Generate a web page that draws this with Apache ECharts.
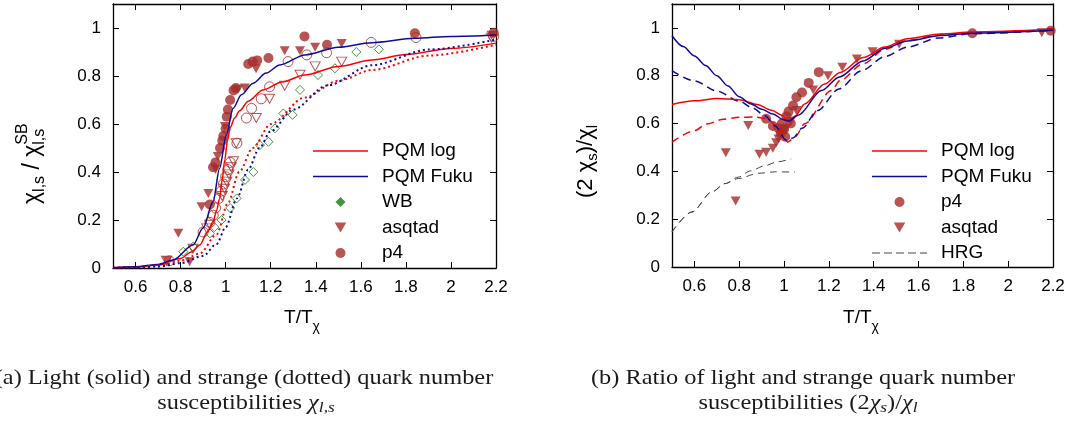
<!DOCTYPE html>
<html><head><meta charset="utf-8">
<script src="https://cdn.jsdelivr.net/npm/echarts@6/dist/echarts.min.js"></script>
<style>html,body{margin:0;padding:0;background:#fff;}#c{width:1077px;height:421px;}</style>
</head><body><div id="c"></div>
<script>
// ---------- tick values ----------
const xTicks = [0.6, 0.8, 1.0, 1.2, 1.4, 1.6, 1.8, 2.0, 2.2];
const yTicks = [0, 0.2, 0.4, 0.6, 0.8, 1.0];

// ---------- (a) curves: light (solid) & strange (dotted) ----------
const logLight = [[0.5,0.001],[0.6,0.004],[0.7,0.012],[0.8,0.04],[0.85,0.068],[0.885,0.096],[0.92,0.15],[0.944,0.193],[0.96,0.24],[0.973,0.29],[0.985,0.37],[0.996,0.45],[1.008,0.53],[1.02,0.585],[1.04,0.625],[1.062,0.655],[1.1,0.695],[1.166,0.742],[1.25,0.775],[1.35,0.804],[1.5,0.84],[1.65,0.867],[1.8,0.89],[2.0,0.915],[2.2,0.937]];
const fukuLight = [[0.5,0.001],[0.6,0.005],[0.7,0.015],[0.766,0.033],[0.855,0.096],[0.9,0.167],[0.944,0.276],[0.973,0.415],[1.003,0.554],[1.033,0.665],[1.07,0.722],[1.121,0.769],[1.18,0.812],[1.24,0.846],[1.352,0.888],[1.5,0.92],[1.648,0.939],[1.84,0.957],[2.0,0.965],[2.2,0.971]];
const logStrange = [[0.5,0.001],[0.6,0.003],[0.7,0.01],[0.8,0.03],[0.885,0.06],[0.96,0.14],[1.01,0.27],[1.06,0.4],[1.12,0.5],[1.2,0.6],[1.35,0.71],[1.5,0.78],[1.65,0.825],[1.9,0.885],[2.2,0.93]];
const fukuStrange = [[0.5,0.001],[0.6,0.002],[0.7,0.006],[0.8,0.02],[0.9,0.05],[0.96,0.1],[1.0,0.17],[1.05,0.29],[1.1,0.41],[1.15,0.5],[1.2,0.57],[1.3,0.66],[1.45,0.76],[1.65,0.845],[1.9,0.91],[2.2,0.952]];

// ---------- (a) lattice data ----------
const wbStrange = [[0.812,0.068],[0.856,0.089],[0.93,0.144],[0.95,0.17],[0.982,0.2],[1.02,0.25],[1.049,0.29],[1.086,0.367],[1.123,0.4],[1.152,0.512],[1.19,0.526],[1.219,0.582],[1.256,0.644],[1.297,0.638],[1.33,0.742],[1.41,0.804],[1.485,0.832],[1.58,0.9],[1.68,0.911]];
const asqtadLight = [[0.74,0.03],[0.79,0.145],[0.84,0.026],[0.893,0.255],[0.923,0.31],[0.955,0.41],[0.965,0.465],[0.997,0.59],[1.055,0.745],[1.085,0.75],[1.135,0.83],[1.262,0.905],[1.33,0.905],[1.397,0.92],[1.515,0.935],[2.18,0.97]];
const asqtadStrange = [[0.737,0.03],[0.855,0.08],[0.916,0.165],[0.93,0.18],[0.985,0.3],[0.995,0.33],[1.005,0.36],[1.015,0.39],[1.025,0.42],[1.035,0.445],[1.047,0.52],[1.136,0.625],[1.195,0.705],[1.262,0.76],[1.33,0.805],[1.397,0.84],[1.515,0.86],[2.18,0.96]];
const p4Light = [[0.93,0.265],[0.944,0.42],[0.955,0.44],[0.975,0.5],[0.985,0.53],[0.99,0.55],[1.0,0.58],[1.005,0.63],[1.01,0.66],[1.02,0.7],[1.035,0.74],[1.045,0.75],[1.1,0.85],[1.12,0.86],[1.14,0.865],[1.19,0.875],[1.35,0.965],[1.45,0.93],[1.84,0.978],[2.19,0.98]];
const p4Strange = [[0.75,0.03],[0.9,0.15],[0.93,0.19],[0.945,0.22],[0.955,0.25],[0.97,0.29],[0.98,0.32],[0.99,0.35],[1.0,0.38],[1.01,0.41],[1.02,0.44],[1.05,0.52],[1.092,0.625],[1.115,0.665],[1.158,0.705],[1.195,0.755],[1.277,0.86],[1.36,0.888],[1.448,0.897],[1.646,0.94],[1.845,0.96],[2.19,0.965]];

// ---------- (b) ratio curves ----------
const logRatio = [[0.5,0.68],[0.6,0.695],[0.7,0.705],[0.8,0.7],[0.88,0.68],[0.944,0.656],[0.99,0.635],[1.02,0.612],[1.05,0.632],[1.092,0.682],[1.181,0.765],[1.25,0.814],[1.353,0.876],[1.45,0.92],[1.55,0.955],[1.7,0.975],[1.84,0.983],[2.2,0.994]];
const fukuRatio = [[0.5,0.967],[0.55,0.922],[0.6,0.883],[0.65,0.843],[0.7,0.8],[0.75,0.757],[0.8,0.712],[0.85,0.683],[0.9,0.66],[0.95,0.64],[0.996,0.617],[1.02,0.61],[1.063,0.635],[1.167,0.738],[1.247,0.795],[1.353,0.862],[1.45,0.915],[1.55,0.945],[1.7,0.968],[1.84,0.978],[2.2,0.99]];
const logRatioDash = [[0.5,0.522],[0.6,0.57],[0.654,0.598],[0.73,0.618],[0.8,0.626],[0.87,0.627],[0.921,0.622],[0.97,0.59],[1.0,0.545],[1.015,0.522],[1.05,0.545],[1.092,0.599],[1.211,0.738],[1.25,0.78],[1.353,0.85],[1.45,0.91],[1.55,0.948],[1.7,0.972],[1.84,0.98],[2.2,0.992]];
const fukuRatioDash = [[0.5,0.821],[0.6,0.778],[0.7,0.736],[0.8,0.694],[0.86,0.665],[0.915,0.633],[0.96,0.59],[1.01,0.53],[1.04,0.54],[1.08,0.58],[1.15,0.655],[1.245,0.745],[1.344,0.82],[1.45,0.88],[1.55,0.92],[1.69,0.958],[1.84,0.976],[2.2,0.99]];
const hrgUpper = [[0.5,0.147],[0.589,0.23],[0.678,0.314],[0.737,0.349],[0.796,0.376],[0.85,0.402],[0.915,0.424],[0.97,0.44],[1.032,0.452]];
const hrgLower = [[0.5,0.147],[0.589,0.23],[0.678,0.314],[0.737,0.349],[0.796,0.37],[0.885,0.392],[0.96,0.398],[1.048,0.397]];

// ---------- (b) lattice data ----------
const p4Ratio = [[0.92,0.62],[0.95,0.59],[0.975,0.58],[0.985,0.56],[0.99,0.6],[1.0,0.575],[1.005,0.545],[1.01,0.63],[1.02,0.65],[1.03,0.6],[1.04,0.675],[1.055,0.71],[1.08,0.73],[1.11,0.77],[1.155,0.815],[1.84,0.978],[2.19,0.988]];
const asqtadRatio = [[0.74,0.478],[0.784,0.276],[0.84,0.592],[0.89,0.472],[0.92,0.48],[0.95,0.497],[0.965,0.52],[0.975,0.535],[0.985,0.55],[0.995,0.565],[1.01,0.58],[1.03,0.61],[1.055,0.655],[1.13,0.74],[1.196,0.8],[1.26,0.835],[1.325,0.87],[1.395,0.9],[1.513,0.932],[2.15,0.98]];

// ---------- styling ----------
const RED = '#ff0000', BLUE = '#0c0c96', BROWN = '#a52a2a', GREEN = '#117a11', GRAY = '#444444';
const SANS = '"Liberation Sans", Arial, sans-serif';
const SERIF = '"Liberation Serif", "Times New Roman", serif';
const TRI = 'path://M0,0L10,0L5,8.66Z';
const DIAM = 'path://M5,0L10,5L5,10L0,5Z';
const LINE_ICON = 'path://M0,0H55V1.6H0Z';
const DASH_ICON = 'path://M0,0h8v1.2h-8zM12,0h8v1.2h-8zM24,0h8v1.2h-8zM36,0h8v1.2h-8zM48,0h7v1.2h-7z';
const fmt = v => String(+(+v).toFixed(1));

function xAxisDef(grid, pos, labels) {
  return {
    type: 'value', gridIndex: grid, position: pos, min: 0.5, max: 2.2,
    axisLine: { show: true, onZero: false, lineStyle: { color: '#000', width: 1.3 } },
    axisTick: { show: true, inside: true, length: 6, customValues: xTicks, lineStyle: { color: '#000', width: 1 } },
    axisLabel: { show: labels, customValues: xTicks, formatter: fmt, margin: 11, color: '#000', fontSize: 17, fontFamily: SANS },
    splitLine: { show: false }
  };
}
function yAxisDef(grid, pos, labels) {
  return {
    type: 'value', gridIndex: grid, position: pos, min: 0, max: 1.1,
    axisLine: { show: true, onZero: false, lineStyle: { color: '#000', width: 1.3 } },
    axisTick: { show: true, inside: true, length: 6, customValues: yTicks, lineStyle: { color: '#000', width: 1 } },
    axisLabel: { show: labels, customValues: yTicks, formatter: fmt, margin: 12, color: '#000', fontSize: 17, fontFamily: SANS },
    splitLine: { show: false }
  };
}
function lineS(name, data, g, color, type, width) {
  return { name, type: 'line', data, xAxisIndex: g * 2, yAxisIndex: g * 2, showSymbol: false, symbol: 'none',
    smooth: 0.3, smoothMonotone: 'x', silent: true,
    lineStyle: { color, width: width || 1.5, type: type || 'solid', cap: 'butt' }, itemStyle: { color } };
}
function scatS(name, data, g, symbol, size, color, open) {
  return { name, type: 'scatter', data, xAxisIndex: g * 2, yAxisIndex: g * 2, symbol, symbolSize: size, silent: true,
    itemStyle: open ? { color: 'rgba(0,0,0,0)', borderColor: color, borderWidth: 1 } : { color, borderWidth: 0 } };
}

// ---------- math-like text helper ----------
const mctx = document.createElement('canvas').getContext('2d');
function tw(t, size, fam, italic) { mctx.font = (italic ? 'italic ' : '') + size + 'px ' + fam; return mctx.measureText(t).width; }
function mathText(x, y, rot, parts, fam, color, align, sx) {
  let cx = 0, lastStart = 0; const kids = [];
  parts.forEach(p => {
    const px = p.stack ? lastStart : cx;
    kids.push({ type: 'text', x: px, y: p.dy || 0, silent: true,
      style: { text: p.t, fontSize: p.size, fontFamily: fam, fontStyle: p.italic ? 'italic' : 'normal', fill: color, textAlign: 'left', textVerticalAlign: 'middle' } });
    if (!p.stack) { lastStart = cx; cx += tw(p.t, p.size, fam, p.italic); }
  });
  if (align === 'center') kids.forEach(k => { k.x -= cx / 2; });
  return { type: 'group', x, y, rotation: rot, scaleX: sx || 1, children: kids };
}

const chart = echarts.init(document.getElementById('c'), null, { renderer: 'canvas' });
const legendBase = {
  orient: 'vertical', padding: 0, itemWidth: 55, itemHeight: 10, itemGap: 5.5, selectedMode: false,
  formatter: n => '{a|' + n + '}',
  textStyle: { color: '#000', fontSize: 19, fontFamily: SANS, lineHeight: 20, rich: { a: { fontSize: 19, fontFamily: SANS, padding: [0, 0, 0, 9] } } }
};

chart.setOption({
  animation: false,
  backgroundColor: '#fff',
  grid: [
    { left: 113, top: 4, width: 383, height: 264 },
    { left: 672, top: 4, width: 381, height: 263 }
  ],
  xAxis: [xAxisDef(0, 'bottom', true), xAxisDef(0, 'top', false), xAxisDef(1, 'bottom', true), xAxisDef(1, 'top', false)],
  yAxis: [yAxisDef(0, 'left', true), yAxisDef(0, 'right', false), yAxisDef(1, 'left', true), yAxisDef(1, 'right', false)],
  legend: [
    Object.assign({}, legendBase, { left: 313, top: 141,
      data: [
        { name: 'PQM log', icon: LINE_ICON },
        { name: 'PQM Fuku', icon: LINE_ICON },
        { name: 'WB', icon: DIAM, itemStyle: { color: GREEN, borderWidth: 0 } },
        { name: 'asqtad', icon: TRI },
        { name: 'p4', icon: 'circle' }
      ] }),
    Object.assign({}, legendBase, { left: 872, top: 141,
      data: [
        { name: 'PQM log', icon: LINE_ICON },
        { name: 'PQM Fuku', icon: LINE_ICON },
        { name: 'p4', icon: 'circle' },
        { name: 'asqtad', icon: TRI },
        { name: 'HRG', icon: DASH_ICON }
      ] })
  ],
  series: [
    lineS('PQM log', logLight, 0, RED),
    lineS('PQM Fuku', fukuLight, 0, BLUE),
    lineS('PQM log strange', logStrange, 0, RED, [2, 3], 2),
    lineS('PQM Fuku strange', fukuStrange, 0, BLUE, [2, 3], 2),
    scatS('WB', wbStrange, 0, DIAM, 9, GREEN, true),
    scatS('asqtad strange', asqtadStrange, 0, TRI, [10, 9], BROWN, true),
    scatS('p4 strange', p4Strange, 0, 'circle', 10, BROWN, true),
    scatS('asqtad', asqtadLight, 0, TRI, [10, 9], BROWN, false),
    scatS('p4', p4Light, 0, 'circle', 10, BROWN, false),

    lineS('HRG', hrgUpper, 1, GRAY, [7, 5], 1),
    lineS('HRG lower', hrgLower, 1, GRAY, [7, 5], 1),
    lineS('PQM log dashed', logRatioDash, 1, RED, [8, 5], 1.5),
    lineS('PQM Fuku dashed', fukuRatioDash, 1, BLUE, [8, 5], 1.5),
    lineS('PQM log', logRatio, 1, RED),
    lineS('PQM Fuku', fukuRatio, 1, BLUE),
    scatS('asqtad', asqtadRatio, 1, TRI, [10, 9], BROWN, false),
    scatS('p4', p4Ratio, 1, 'circle', 10, BROWN, false)
  ],
  graphic: [
    // y-axis names
    mathText(33, 204, Math.PI / 2, [
      { t: 'χ', size: 23 }, { t: 'l,s', size: 16, dy: 7 }, { t: ' / χ', size: 23 },
      { t: 'l,s', size: 16, dy: 7 }, { t: 'SB', size: 16, dy: -10, stack: true }
    ], SANS, '#000', 'left'),
    mathText(586, 198, Math.PI / 2, [
      { t: '(2 χ', size: 22 }, { t: 's', size: 15, dy: 7 }, { t: ')/χ', size: 22 }, { t: 'l', size: 15, dy: 7 }
    ], SANS, '#000', 'left'),
    // x-axis names
    mathText(302, 318, 0, [{ t: 'T/T', size: 19 }, { t: 'χ', size: 14, dy: 9 }], SANS, '#000', 'center'),
    mathText(861, 318, 0, [{ t: 'T/T', size: 19 }, { t: 'χ', size: 14, dy: 9 }], SANS, '#000', 'center'),
    // captions
    mathText(244, 378, 0, [{ t: '(a) Light (solid) and strange (dotted) quark number', size: 21 }], SERIF, '#1a1a1a', 'center', 1.16),
    mathText(246, 403, 0, [{ t: 'susceptibilities ', size: 21 }, { t: 'χ', size: 21, italic: true }, { t: 'l,s', size: 15, dy: 5, italic: true }], SERIF, '#1a1a1a', 'center', 1.16),
    mathText(803, 378, 0, [{ t: '(b) Ratio of light and strange quark number', size: 21 }], SERIF, '#1a1a1a', 'center', 1.16),
    mathText(808, 403, 0, [{ t: 'susceptibilities (2', size: 21 }, { t: 'χ', size: 21, italic: true }, { t: 's', size: 15, dy: 5, italic: true },
      { t: ')/', size: 21 }, { t: 'χ', size: 21, italic: true }, { t: 'l', size: 15, dy: 5, italic: true }], SERIF, '#1a1a1a', 'center', 1.16)
  ]
});
</script>
</body></html>
